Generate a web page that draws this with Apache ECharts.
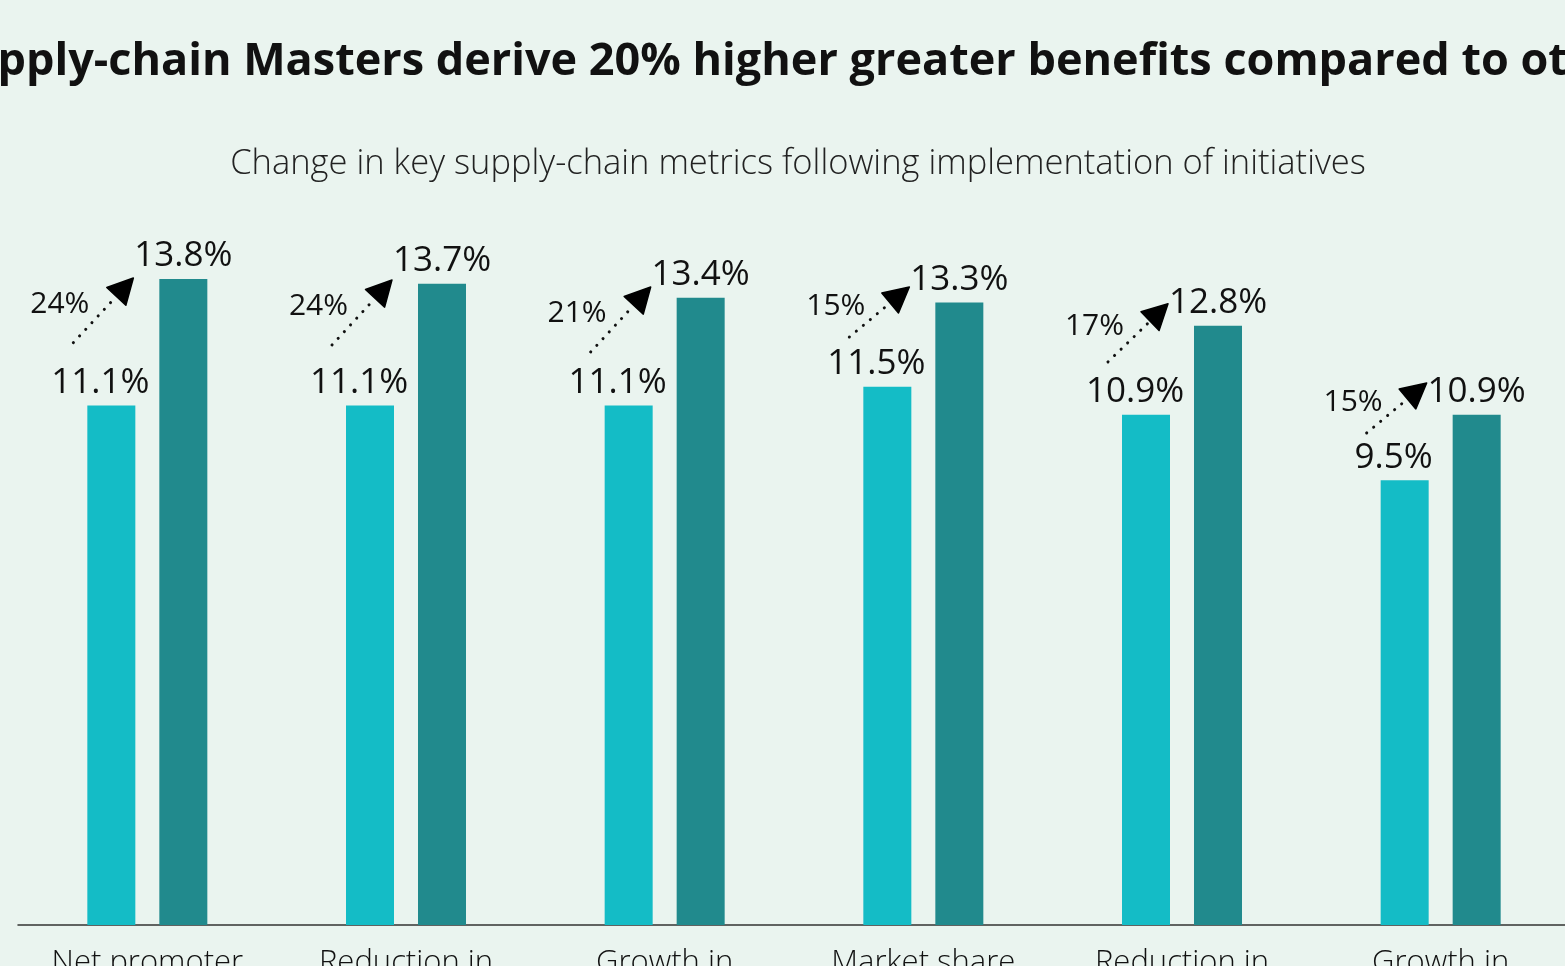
<!DOCTYPE html>
<html>
<head>
<meta charset="utf-8">
<script src="https://cdn.jsdelivr.net/npm/echarts@6/dist/echarts.min.js"></script>
<style>
html,body{margin:0;padding:0;background:#eaf4ef;}
#main{width:1565px;height:966px;}
</style>
</head>
<body>
<div id="main"></div>
<script>
// categories (only first line visible in the picture)
var categories = ['Net promoter', 'Reduction in', 'Growth in', 'Market share', 'Reduction in', 'Growth in'];
// before / after values (%)
var othersValues = [11.1, 11.1, 11.1, 11.5, 10.9, 9.5];
var mastersValues = [13.8, 13.7, 13.4, 13.3, 12.8, 10.9];
// relative change shown next to the arrows
var changeLabels = ['24%', '24%', '21%', '15%', '17%', '15%'];
// arrow start / end heights (value units)
var arrowFrom = [12.44, 12.39, 12.24, 12.56, 12.03, 10.51];
var arrowTo = [13.82, 13.78, 13.63, 13.63, 13.27, 11.58];

var FONT = 'Open Sans';
var barW = 48, barGap = 24;

var arrowData = [];
for (var i = 0; i < categories.length; i++) {
	arrowData.push([i, arrowFrom[i], arrowTo[i], changeLabels[i]]);
}

function renderArrow(params, api) {
	var p0 = api.coord([api.value(0), api.value(1)]);
	var p1 = api.coord([api.value(0), api.value(2)]);
	var bar1Center = p0[0] - (barW + barGap) / 2;
	var x0 = bar1Center - barW / 2 - 14;
	var y0 = p0[1];
	var x1 = bar1Center + barW / 2 - 2;
	var y1 = p1[1];
	var ang = Math.atan2(y1 - y0, x1 - x0);
	var headLen = 25, headW = 13;
	// base of arrow head
	var bx = x1 - headLen * Math.cos(ang);
	var by = y1 - headLen * Math.sin(ang);
	var nx = -Math.sin(ang), ny = Math.cos(ang);
	var mx = (x0 + x1) / 2, my = (y0 + y1) / 2;
	return {
		type: 'group',
		children: [{
			type: 'line',
			shape: {x1: x0, y1: y0, x2: bx, y2: by},
			style: {stroke: '#111', lineWidth: 3, lineDash: [0.1, 9], lineCap: 'round'}
		}, {
			type: 'polygon',
			shape: {points: [[x1, y1], [bx + nx * headW, by + ny * headW], [bx - nx * headW, by - ny * headW]]},
			style: {fill: '#000', stroke: '#000', lineWidth: 1.5, lineJoin: 'round'}
		}, {
			type: 'text',
			style: {
				text: api.value(3),
				x: mx - 14, y: my - 6,
				align: 'right', verticalAlign: 'middle',
				font: '30px "' + FONT + '"',
				fill: '#111'
			}
		}]
	};
}

var option = {
	backgroundColor: '#eaf4ef',
	title: [{
		text: 'Supply-chain Masters derive 20% higher greater benefits compared to others',
		left: 800,
		textAlign: 'center',
		top: 35,
		textStyle: {fontFamily: FONT, fontSize: 45, fontWeight: 'bold', color: '#111'}
	}, {
		text: 'Change in key supply-chain metrics following implementation of initiatives',
		left: 793,
		textAlign: 'center',
		top: 142,
		textStyle: {fontFamily: FONT, fontSize: 34.5, fontWeight: 300, color: '#222'}
	}],
	grid: {left: 18, right: -5, top: 176, bottom: 41, outerBoundsMode: 'none'},
	xAxis: {
		type: 'category',
		data: categories,
		axisLine: {lineStyle: {color: '#333', width: 1.5}},
		axisTick: {show: false},
		axisLabel: {fontFamily: FONT, fontSize: 31, fontWeight: 300, color: '#111', margin: 23, interval: 0}
	},
	yAxis: {type: 'value', min: 0, max: 16, show: false, splitLine: {show: false}},
	series: [{
		name: 'Others',
		type: 'bar',
		barWidth: barW,
		barGap: '50%',
		data: othersValues,
		itemStyle: {color: '#14bcc6'},
		label: {show: true, position: 'top', distance: 5, offset: [-11, 0], formatter: '{c}%',
			fontFamily: FONT, fontSize: 35, color: '#111'}
	}, {
		name: 'Masters',
		type: 'bar',
		barWidth: barW,
		data: mastersValues,
		itemStyle: {color: '#218a8d'},
		label: {show: true, position: 'top', distance: 5, formatter: '{c}%',
			fontFamily: FONT, fontSize: 35, color: '#111'}
	}, {
		type: 'custom',
		renderItem: renderArrow,
		data: arrowData,
		z: 10,
		silent: true
	}]
};

var myChart = echarts.init(document.getElementById('main'));
myChart.setOption(option);
</script>
</body>
</html>
